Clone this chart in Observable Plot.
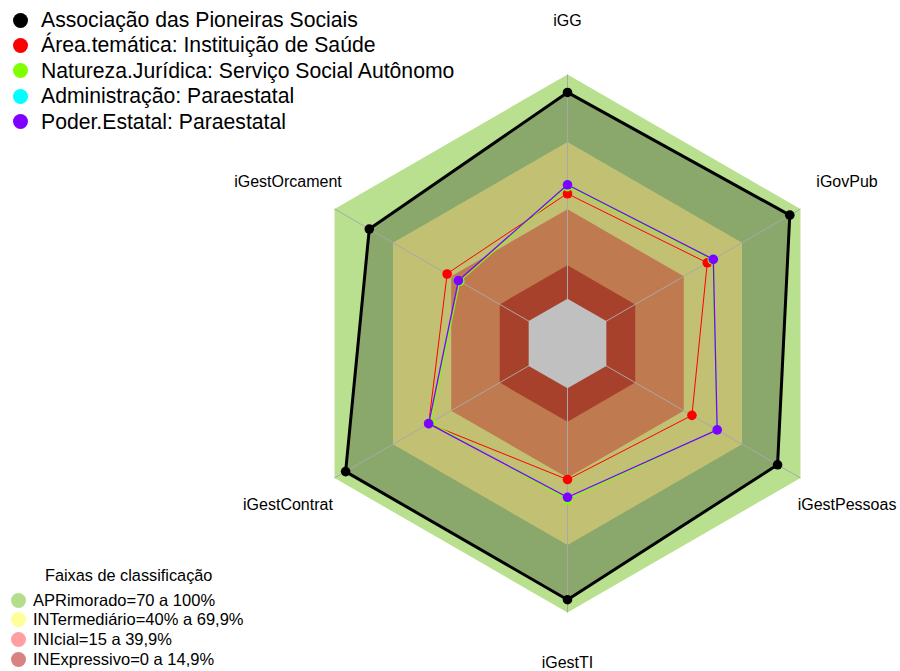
<!DOCTYPE html>
<html>
<head>
<meta charset="utf-8">
<script src="https://cdn.jsdelivr.net/npm/d3@7"></script>
<script src="https://cdn.jsdelivr.net/npm/@observablehq/plot@0.6"></script>
<style>
  html, body { margin: 0; padding: 0; background: #fff; }
  #wrap { position: relative; width: 900px; height: 671px; font-family: "Liberation Sans", Arial, sans-serif; }
  #wrap svg { position: absolute; left: 0; top: 0; }
  .leg { position: absolute; left: 0; top: 0; }
  .row { position: absolute; white-space: nowrap; display: flex; align-items: center; }
  .dot { border-radius: 50%; flex: none; }
</style>
</head>
<body>
<div id="wrap"></div>
<script>
// ---- data ----
const axes = ["iGG", "iGovPub", "iGestPessoas", "iGestTI", "iGestContrat", "iGestOrcament"];
const seriesNames = [
  "Associação das Pioneiras Sociais",
  "Área.temática: Instituição de Saúde",
  "Natureza.Jurídica: Serviço Social Autônomo",
  "Administração: Paraestatal",
  "Poder.Estatal: Paraestatal"
];
const seriesColors = ["#000000", "#ff0000", "#80ff00", "#00ffff", "#8000ff"];
const assoc        = [92.0, 94.5, 88.2, 94.3, 94.3, 82.1];
const areaTematica = [46.8, 52.0, 44.1, 40.7, 51.5, 42.0];
const natureza     = [50.0, 54.6, 57.0, 49.8, 50.5, 35.5];
const administracao= [50.8, 55.1, 57.1, 48.6, 51.5, 36.2];
const poderEstatal = [50.8, 55.1, 57.1, 48.6, 51.5, 36.2];
const seriesValues = [assoc, areaTematica, natureza, administracao, poderEstatal];

const bandNames  = ["APRimorado=70 a 100%", "INTermediário=40% a 69,9%", "INIcial=15 a 39,9%", "INExpressivo=0 a 14,9%"];
const bandUpper  = [100, 69.9, 39.9, 14.9];
const bandLegendColors = ["#b4de8c", "#ffff99", "#ff9f9f", "#d98282"];
const legendTitle = "Faixas de classificação";

// ---- layout ----
const W = 900, H = 671, cx = 567, cy = 343, R = 269;
const rad = v => 1 / 6 + (5 / 6) * v / 100;           // radial scale (fmsb style, hole at centre)
const ang = i => Math.PI / 2 - i * Math.PI / 3;          // clockwise from top
const poly = (vals) => vals.map((v, i) => ({axis: axes[i], v, x: rad(v) * Math.cos(ang(i)), y: rad(v) * Math.sin(ang(i))}));
const ring = v => poly(axes.map(() => v));

// visible band colours (as rendered, under the translucent series fill)
const outerColor = "#b8e08f";
const assocFill  = "#8aa86b";
const bandFills  = ["#c2c073", "#c07a50", "#a8412c"];
const holeColor  = "#c0c0c0";
const lineWidths = [3, 1, 1.1, 0.6, 1.3];

const marks = [];
marks.push(Plot.line(ring(bandUpper[0]), {x: "x", y: "y", curve: "linear-closed", fill: outerColor, stroke: "none"}));
marks.push(Plot.line(poly(assoc), {x: "x", y: "y", curve: "linear-closed", fill: assocFill, stroke: "none"}));
bandUpper.slice(1).forEach((b, k) => {
  marks.push(Plot.line(ring(b), {x: "x", y: "y", curve: "linear-closed", fill: bandFills[k], stroke: "none"}));
});
// spokes
const spokes = axes.map((a, i) => ({x1: 0, y1: 0, x2: Math.cos(ang(i)), y2: Math.sin(ang(i))}));
marks.push(Plot.link(spokes, {x1: "x1", y1: "y1", x2: "x2", y2: "y2", stroke: "#a8a8a8", strokeWidth: 1}));
marks.push(Plot.line(ring(0), {x: "x", y: "y", curve: "linear-closed", fill: holeColor, stroke: "none"}));

// series
seriesValues.forEach((vals, s) => {
  const d = poly(vals);
  marks.push(Plot.line(d, {x: "x", y: "y", curve: "linear-closed", stroke: seriesColors[s], strokeWidth: lineWidths[s]}));
  marks.push(Plot.dot(d, {x: "x", y: "y", r: 4.8, fill: seriesColors[s], stroke: "none"}));
});

// axis labels (the bottom one nudged up a little so it is not clipped by the frame)
const labels = axes.map((a, i) => ({a, x: 1.2 * Math.cos(ang(i)), y: 1.2 * Math.sin(ang(i))}));
marks.push(Plot.text(labels.filter(d => d.y > -1.1), {x: "x", y: "y", text: "a", fontSize: 16, fill: "#000", textAnchor: "middle"}));
marks.push(Plot.text(labels.filter(d => d.y <= -1.1), {x: "x", y: "y", text: "a", fontSize: 16, fill: "#000", textAnchor: "middle", dy: -3}));

const chart = Plot.plot({
  width: W, height: H,
  margin: 0,
  style: {fontFamily: '"Liberation Sans", Arial, sans-serif', background: "transparent"},
  x: {domain: [-cx / R, (W - cx) / R], axis: null},
  y: {domain: [-(H - cy) / R, cy / R], axis: null},
  marks
});
const wrap = document.getElementById("wrap");
wrap.appendChild(chart);

// ---- legends (HTML overlay) ----
const topLeg = d3.select(wrap).append("div").attr("class", "leg");
seriesNames.forEach((n, i) => {
  const row = topLeg.append("div").attr("class", "row")
    .style("left", "13px").style("top", (20 + 25.4 * i - 12) + "px").style("height", "24px")
    .style("font-size", "21.2px");
  row.append("div").attr("class", "dot").style("width", "15px").style("height", "15px").style("background", seriesColors[i]);
  row.append("span").style("margin-left", "13px").text(n);
});
const botLeg = d3.select(wrap).append("div").attr("class", "leg");
botLeg.append("div").attr("class", "row").style("left", "45px").style("top", "565px").style("height", "20px")
  .style("font-size", "16.3px").text(legendTitle);
bandNames.forEach((n, i) => {
  const row = botLeg.append("div").attr("class", "row")
    .style("left", "11px").style("top", (600 + 19.8 * i - 10) + "px").style("height", "20px")
    .style("font-size", "16.5px");
  row.append("div").attr("class", "dot").style("width", "15px").style("height", "15px").style("background", bandLegendColors[i]);
  row.append("span").style("margin-left", "7px").text(n);
});
</script>
</body>
</html>
